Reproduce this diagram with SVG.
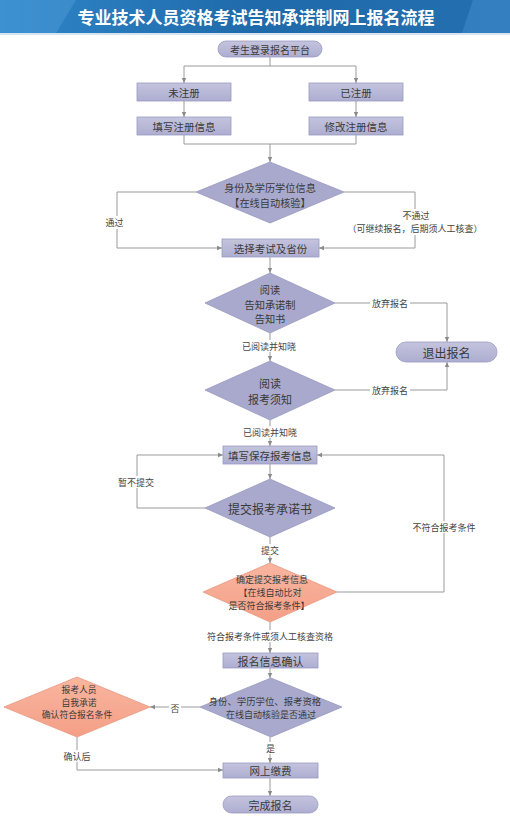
<svg xmlns="http://www.w3.org/2000/svg" width="510" height="822" viewBox="0 0 510 822">
<defs>
<linearGradient id="hdr" x1="0" y1="0" x2="1" y2="0">
<stop offset="0" stop-color="#2f86c8"/>
<stop offset="0.5" stop-color="#1f6aaa"/>
<stop offset="1" stop-color="#246fb0"/>
</linearGradient>
<linearGradient id="lav" x1="0" y1="0" x2="0" y2="1">
<stop offset="0" stop-color="#c4c4de"/>
<stop offset="1" stop-color="#adadd0"/>
</linearGradient>
<linearGradient id="org" x1="0" y1="0" x2="0" y2="1">
<stop offset="0" stop-color="#f9b5a0"/>
<stop offset="1" stop-color="#f49f86"/>
</linearGradient>
<marker id="ah" markerWidth="6" markerHeight="6" refX="5" refY="3" orient="auto" markerUnits="userSpaceOnUse">
<path d="M0,0.8 L5,3 L0,5.2 z" fill="#8a8a8a"/>
</marker>
<style>
.box{fill:url(#lav);stroke:#9a9ac2;stroke-width:0.8}
.dia{fill:#a9a9cd;stroke:#9898c0;stroke-width:0.8}
.odia{fill:url(#org);stroke:#e99880;stroke-width:0.8}
.t{font-family:"Noto Sans CJK SC","Noto Sans",sans-serif;fill:#3a3a3a;text-anchor:middle;dominant-baseline:central}
.lbl{font-family:"Noto Sans CJK SC","Noto Sans",sans-serif;fill:#444;text-anchor:middle;dominant-baseline:central;font-size:9px}
.bg{fill:#ffffff}
.c{fill:none;stroke:#9a9a9a;stroke-width:1}
</style>
</defs>
<rect width="510" height="822" fill="#ffffff"/>
<g id="header">
<rect x="0" y="0" width="510" height="33" fill="url(#hdr)"/>
<polygon points="0,0 76,0 56,33 0,33" fill="#5aa6e0" opacity="0.35"/>
<polygon points="473,0 510,0 510,33 462,33" fill="#5aa6e0" opacity="0.3"/>
<rect x="0" y="33" width="510" height="2" fill="#d4e4f1"/>
<text x="256" y="16.5" font-family="'Noto Sans CJK SC',sans-serif" font-size="17" font-weight="bold" fill="#ffffff" text-anchor="middle" dominant-baseline="central">专业技术人员资格考试告知承诺制网上报名流程</text>
</g>
<g id="connectors">
<path class="c" d="M270,57 V66"/>
<path class="c" d="M184,66 H356"/>
<path class="c" d="M184,66 V83" marker-end="url(#ah)"/>
<path class="c" d="M356,66 V83" marker-end="url(#ah)"/>
<path class="c" d="M184,101 V117" marker-end="url(#ah)"/>
<path class="c" d="M356,101 V117" marker-end="url(#ah)"/>
<path class="c" d="M184,135 V144 H356 V135"/>
<path class="c" d="M270,144 V162" marker-end="url(#ah)"/>
<path class="c" d="M196,192 H117 V248 H222" marker-end="url(#ah)"/>
<path class="c" d="M344,192 H415 V248 H319" marker-end="url(#ah)"/>
<path class="c" d="M270,257 V273" marker-end="url(#ah)"/>
<path class="c" d="M335,303 H447 V342" marker-end="url(#ah)"/>
<path class="c" d="M270,333 V361" marker-end="url(#ah)"/>
<path class="c" d="M335,390 H447 V362" marker-end="url(#ah)"/>
<path class="c" d="M270,420 V446" marker-end="url(#ah)"/>
<path class="c" d="M270,464 V479" marker-end="url(#ah)"/>
<path class="c" d="M205,508 H137 V455 H223" marker-end="url(#ah)"/>
<path class="c" d="M270,537 V563" marker-end="url(#ah)"/>
<path class="c" d="M337,592 H444 V455 H317" marker-end="url(#ah)"/>
<path class="c" d="M270,622 V653" marker-end="url(#ah)"/>
<path class="c" d="M270,668 V678" marker-end="url(#ah)"/>
<path class="c" d="M200,707 H150" marker-end="url(#ah)"/>
<path class="c" d="M77,737 V770 H223" marker-end="url(#ah)"/>
<path class="c" d="M270,737 V763" marker-end="url(#ah)"/>
<path class="c" d="M270,778 V796" marker-end="url(#ah)"/>
</g>
<g id="labels">
<rect class="bg" x="103" y="216" width="23" height="13"/>
<text class="lbl" x="114.5" y="222" font-size="10">通过</text>
<rect class="bg" x="350" y="209" width="131" height="26"/>
<text class="lbl" x="416" y="215.5">不通过</text>
<text class="lbl" x="415" y="228.6" font-size="8.7">（可继续报名，后期须人工核查）</text>
<rect class="bg" x="370" y="297" width="40" height="12"/>
<text class="lbl" x="390" y="303">放弃报名</text>
<rect class="bg" x="370" y="384" width="40" height="12"/>
<text class="lbl" x="390" y="390">放弃报名</text>
<rect class="bg" x="239" y="340" width="60" height="12"/>
<text class="lbl" x="269" y="346" font-size="9.5">已阅读并知晓</text>
<rect class="bg" x="240" y="426" width="60" height="12"/>
<text class="lbl" x="270" y="432" font-size="9.5">已阅读并知晓</text>
<rect class="bg" x="117" y="476" width="38" height="12"/>
<text class="lbl" x="136" y="482">暂不提交</text>
<rect class="bg" x="260" y="544" width="20" height="12"/>
<text class="lbl" x="270" y="550" font-size="9.5">提交</text>
<rect class="bg" x="412" y="521" width="65" height="12"/>
<text class="lbl" x="444" y="527">不符合报考条件</text>
<rect class="bg" x="212" y="630" width="116" height="12"/>
<text class="lbl" x="270" y="636" font-size="8.2">符合报考条件或须人工核查资格</text>
<rect class="bg" x="169" y="702" width="12" height="12"/>
<text class="lbl" x="175" y="708">否</text>
<rect class="bg" x="62" y="750" width="29" height="12"/>
<text class="lbl" x="77" y="756">确认后</text>
<rect class="bg" x="265" y="742" width="11" height="12"/>
<text class="lbl" x="270.5" y="748">是</text>
</g>
<g id="n-start">
<rect class="box" x="218" y="41" width="104" height="16" rx="8"/>
<text class="t" x="270" y="49" font-size="10">考生登录报名平台</text>
</g>
<g id="n-unreg">
<rect class="box" x="137" y="83" width="94" height="18"/>
<text class="t" x="184" y="92" font-size="10.5">未注册</text>
</g>
<g id="n-reg">
<rect class="box" x="309" y="83" width="94" height="18"/>
<text class="t" x="356" y="92" font-size="10.5">已注册</text>
</g>
<g id="n-fillreg">
<rect class="box" x="137" y="117" width="94" height="18"/>
<text class="t" x="184" y="126" font-size="10.5">填写注册信息</text>
</g>
<g id="n-modreg">
<rect class="box" x="309" y="117" width="94" height="18"/>
<text class="t" x="356" y="126" font-size="10.5">修改注册信息</text>
</g>
<g id="n-check1">
<polygon class="dia" points="270,162 344,192 270,223 196,192"/>
<text class="t" x="270" y="187.6" font-size="10.2">身份及学历学位信息</text>
<text class="t" x="270" y="202.5" font-size="10.2">【在线自动核验】</text>
</g>
<g id="n-select">
<rect class="box" x="222" y="239" width="97" height="18"/>
<text class="t" x="270.5" y="248" font-size="10.5">选择考试及省份</text>
</g>
<g id="n-read1">
<polygon class="dia" points="270,273 335,303 270,333 205,303"/>
<text class="t" x="270" y="289.1" font-size="10.2">阅读</text>
<text class="t" x="270" y="304" font-size="10.2">告知承诺制</text>
<text class="t" x="270" y="318.9" font-size="10.2">告知书</text>
</g>
<g id="n-exit">
<rect class="box" x="396" y="342" width="101" height="20" rx="10"/>
<text class="t" x="446.5" y="352" font-size="12">退出报名</text>
</g>
<g id="n-read2">
<polygon class="dia" points="270,361 335,390 270,420 205,390"/>
<text class="t" x="270" y="383" font-size="11">阅读</text>
<text class="t" x="270" y="399" font-size="11">报考须知</text>
</g>
<g id="n-save">
<rect class="box" x="223" y="446" width="94" height="18"/>
<text class="t" x="270" y="455" font-size="10.5">填写保存报考信息</text>
</g>
<g id="n-submit">
<polygon class="dia" points="270,479 335,508 270,537 205,508"/>
<text class="t" x="270" y="508" font-size="12">提交报考承诺书</text>
</g>
<g id="n-compare">
<polygon class="odia" points="270,563 337,592 270,622 203,592"/>
<text class="t" x="272" y="579.4" font-size="9">确定提交报考信息</text>
<text class="t" x="270" y="592.5" font-size="9">【在线自动比对</text>
<text class="t" x="269" y="605.6" font-size="9">是否符合报考条件】</text>
</g>
<g id="n-confirm">
<rect class="box" x="223" y="653" width="95" height="15"/>
<text class="t" x="270.5" y="660.5" font-size="11">报名信息确认</text>
</g>
<g id="n-check2">
<polygon class="dia" points="271,678 342,707 271,737 200,707"/>
<text class="t" x="265" y="700.8" font-size="9.4">身份、学历学位、报考资格</text>
<text class="t" x="271" y="714.4" font-size="9">在线自动核验是否通过</text>
</g>
<g id="n-promise">
<polygon class="odia" points="77,677 150,707 77,737 4,707"/>
<text class="t" x="79" y="689.1" font-size="8.8">报考人员</text>
<text class="t" x="79" y="702" font-size="8.8">自我承诺</text>
<text class="t" x="77" y="714.9" font-size="8.8">确认符合报名条件</text>
</g>
<g id="n-pay">
<rect class="box" x="223" y="763" width="95" height="15"/>
<text class="t" x="270.5" y="770.5" font-size="10.5">网上缴费</text>
</g>
<g id="n-done">
<rect class="box" x="223" y="796" width="95" height="17" rx="8.5"/>
<text class="t" x="270.5" y="804.5" font-size="11">完成报名</text>
</g>
</svg>
